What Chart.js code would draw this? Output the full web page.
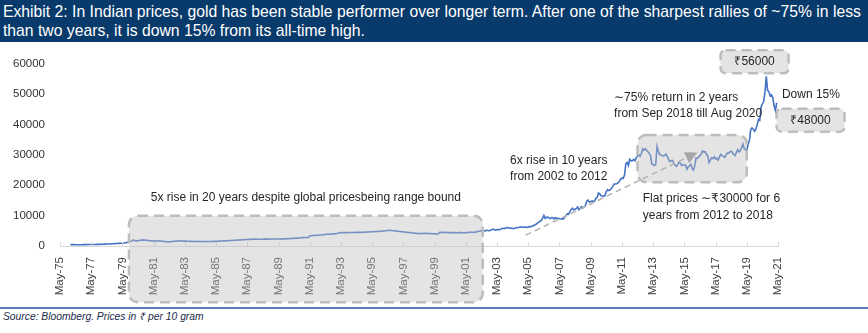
<!DOCTYPE html>
<html>
<head>
<meta charset="utf-8">
<script src="https://cdn.jsdelivr.net/npm/chart.js@4/dist/chart.umd.min.js"></script>
<style>
  body { margin: 0; width: 868px; height: 333px; background: #fff; position: relative; overflow: hidden; }
  #title { position: absolute; left: 0; top: 0; width: 868px; height: 42px; background: #083a6b; }
  #title div { position: absolute; left: 3px; top: 2px; color: #fff; font: 17px 'Liberation Sans', Arial, sans-serif; line-height: 19px;
               white-space: nowrap; transform: scaleX(0.925); transform-origin: 0 0; }
  #chart-wrap { position: absolute; left: 0; top: 42px; }
  #rule { position: absolute; left: 0; top: 307px; width: 868px; height: 2px; background: #5b7db8; }
  #source { position: absolute; left: 3px; top: 309px; font: italic 10.3px 'Liberation Sans', Arial, sans-serif; color: #1a2b4c; }
</style>
</head>
<body>
<div id="title"><div>Exhibit 2: In Indian prices, gold has been stable performer over longer term. After one of the sharpest rallies of ~75% in less<br>than two years, it is down 15% from its all-time high.</div></div>
<div id="chart-wrap"><canvas id="gold-chart" width="868" height="264"></canvas></div>
<div id="rule"></div>
<div id="source">Source: Bloomberg. Prices in ₹ per 10 gram</div>
<script>
// month-end gold price in India, Rs per 10 gram, starting Jan 1976
const firstMonth = '1976-01';

const prices1976to1979 = [
  460, 455, 450, 440, 430, 425, 420, 415, 425, 435, 445, 455,
  465, 475, 485, 495, 500, 495, 500, 510, 520, 530, 540, 550,
  570, 590, 610, 630, 650, 660, 680, 700, 730, 760, 780, 800,
  820, 850, 880, 900, 930, 980, 1050, 1120, 1250, 1350, 1450, 1600
];

const prices1980to2002 = [
  1950, 1850, 1750, 1700, 1750, 1850, 1900, 1950, 2000, 1950, 1900, 1850,
  1800, 1750, 1700, 1650, 1700, 1650, 1600, 1650, 1700, 1650, 1600, 1550,
  1500, 1450, 1400, 1350, 1400, 1380, 1450, 1550, 1600, 1580, 1620, 1650,
  1700, 1750, 1650, 1600, 1620, 1600, 1580, 1560, 1540, 1520, 1500, 1480,
  1480, 1500, 1520, 1500, 1480, 1460, 1450, 1470, 1480, 1500, 1490, 1480,
  1490, 1500, 1520, 1540, 1560, 1580, 1600, 1620, 1640, 1660, 1680, 1700,
  1720, 1750, 1780, 1800, 1830, 1850, 1880, 1920, 1950, 1980, 2000, 2020,
  2050, 2080, 2100, 2120, 2150, 2170, 2180, 2200, 2220, 2250, 2280, 2260,
  2200, 2210, 2230, 2220, 2240, 2250, 2260, 2250, 2270, 2280, 2290, 2300,
  2300, 2290, 2310, 2320, 2300, 2320, 2340, 2330, 2350, 2360, 2380, 2400,
  2420, 2450, 2480, 2500, 2520, 2550, 2580, 2600, 2650, 2700, 2720, 2750,
  2780, 2800, 2820, 2850, 3300, 3400, 3450, 3500, 3480, 3500, 3520, 3550,
  3600, 3650, 3700, 3750, 3800, 3850, 3900, 3880, 3900, 3950, 3980, 4000,
  4050, 4100, 4300, 4350, 4400, 4380, 4420, 4400, 4380, 4400, 4420, 4450,
  4450, 4470, 4480, 4500, 4520, 4500, 4480, 4500, 4520, 4550, 4560, 4580,
  4600, 4620, 4650, 4680, 4700, 4720, 4750, 4780, 4800, 4820, 4850, 4880,
  4900, 4950, 5000, 5050, 5100, 5150, 5200, 5100, 5050, 5000, 4950, 4900,
  4850, 4800, 4750, 4700, 4650, 4600, 4550, 4500, 4450, 4400, 4350, 4300,
  4250, 4200, 4150, 4100, 4080, 4100, 4120, 4100, 4150, 4180, 4150, 4120,
  4100, 4080, 4050, 4020, 4000, 3980, 3950, 4000, 4500, 4550, 4500, 4450,
  4450, 4500, 4420, 4400, 4380, 4420, 4450, 4420, 4400, 4380, 4400, 4420,
  4400, 4380, 4350, 4370, 4400, 4420, 4450, 4480, 4600, 4550, 4500, 4550,
  4650, 4750, 4850, 4900, 5000, 5100, 5050, 5000, 5150, 5100, 5050, 5150
];

const prices2003to2011 = [
  5400, 5550, 5350, 5250, 5400, 5450, 5350, 5550, 5800, 5750, 5800, 6000,
  6050, 5950, 5900, 5850, 5750, 5800, 5950, 6050, 6000, 6150, 6350, 6250,
  6150, 6200, 6250, 6150, 6200, 6450, 6350, 6500, 6750, 6950, 7150, 7550,
  7800, 8150, 8350, 9200, 10100, 9100, 9450, 9550, 9200, 9050, 9350, 9300,
  8950, 9350, 9050, 9150, 8950, 8900, 8950, 8850, 9500, 10050, 10650, 10450,
  11350, 12050, 12450, 11900, 12150, 12350, 12850, 11950, 12450, 12950, 12550, 12850,
  13350, 14850, 15100, 14450, 14550, 14850, 14650, 14850, 15700, 16050, 17450, 17150,
  16550, 16450, 16350, 16650, 17950, 18550, 18250, 18550, 19050, 19650, 20450, 20450,
  20500, 20850, 21250, 22050, 22350, 22300, 23350, 27050, 27550, 26550, 28550, 28050
];

const prices2012to2018 = [
  28100, 28550, 28050, 29050, 29550, 30050, 29550, 30550, 32050, 31550, 32050, 31550,
  31050, 30500, 29800, 27000, 26800, 26500, 26900, 32800, 31200, 30200, 30000, 29800,
  29600, 29900, 30300, 29400, 28400, 27800, 28100, 28200, 27100, 26600, 26200, 26900,
  27700, 27300, 26500, 26800, 26700, 26600, 25300, 26100, 26400, 26900, 25600, 25000,
  26400, 29000, 28900, 29300, 29800, 30300, 31300, 31000, 31100, 30200, 29700, 27500,
  28300, 29100, 28800, 29400, 28700, 28900, 28300, 29400, 30200, 29800, 29500, 29200,
  29900, 30600, 30600, 31000, 31200, 30700, 30100, 29800, 30800, 31800, 31000, 31400
];

const prices2019to2021 = [
  32400, 33600, 32100, 31700, 31600, 33500, 34700, 38300, 38900, 38500, 37800, 38500,
  40000, 41700, 41400, 45800, 46800, 47700, 50800, 55900, 51300, 50800, 49500, 49800,
  48900, 46200, 44600, 47200
];

const tickLabels = [
  'May-75', 'May-77', 'May-79', 'May-81', 'May-83', 'May-85', 'May-87', 'May-89',
  'May-91', 'May-93', 'May-95', 'May-97', 'May-99', 'May-01', 'May-03', 'May-05',
  'May-07', 'May-09', 'May-11', 'May-13', 'May-15', 'May-17', 'May-19', 'May-21'
];

// x positions are counted in months from May 1975
function toMonth(s) {
  const [y, m] = s.split('-').map(Number);
  return (y - 1975) * 12 + (m - 5);
}

const goldPrices = [].concat(prices1976to1979, prices1980to2002, prices2003to2011, prices2012to2018, prices2019to2021);
const start = toMonth(firstMonth);
const points = goldPrices.map((v, i) => ({ x: start + i, y: v }));

// shaded callout boxes, dashed arrow and notes
const boxes = [
  { from: '1979-10', to: '2002-06', top: 10000, bottom: -18500 },
  { from: '2012-05', to: '2019-05', top: 36600, bottom: 21000 }
];
const priceTags = [
  { text: '₹56000', at: '2019-11', value: 60700 },
  { text: '₹48000', at: '2023-06', value: 41450 }
];
const notes = [
  { lines: ['5x rise in 20 years despite global pricesbeing range bound'], at: '1991-02', value: 15990, align: 'center' },
  { lines: ['6x rise in 10 years', 'from 2002 to 2012'], at: '2004-03', value: 28210, align: 'left' },
  { lines: ['Flat prices ∼₹30000 for 6', 'years from 2012 to 2018'], at: '2012-09', value: 15570, align: 'left' },
  { lines: ['∼75% return in 2 years', 'from Sep 2018 till Aug 2020'], at: '2010-11', value: 48970, align: 'left' },
  { lines: ['Down 15%'], at: '2021-08', value: 49940, align: 'left' }
];
const trendArrow = { from: ['2005-03', 3570], to: ['2016-03', 30800] };

const FONT = "'Liberation Sans', Arial, sans-serif";

const axisTicks = {
  id: 'axisTicks',
  afterDatasetsDraw(chart) {
    const { ctx, scales: { x } } = chart;
    ctx.save();
    ctx.strokeStyle = '#d9d9d9';
    ctx.lineWidth = 1;
    x.ticks.forEach(t => {
      const px = Math.round(x.getPixelForValue(t.value)) + 0.5;
      ctx.beginPath();
      ctx.moveTo(px, x.top - 4);
      ctx.lineTo(px, x.top);
      ctx.stroke();
    });
    ctx.restore();
  }
};

function dashedRoundRect(ctx, x, y, w, h, r) {
  ctx.beginPath();
  ctx.roundRect(x, y, w, h, r);
  ctx.fillStyle = 'rgba(191, 191, 191, 0.42)';
  ctx.fill();
  ctx.setLineDash([10, 6]);
  ctx.lineWidth = 2.5;
  ctx.strokeStyle = '#bdbdbd';
  ctx.stroke();
  ctx.setLineDash([]);
}

const annotations = {
  id: 'annotations',
  afterDraw(chart) {
    const { ctx, scales: { x, y } } = chart;
    const px = s => x.getPixelForValue(toMonth(s));
    ctx.save();

    boxes.forEach(b => {
      const x0 = px(b.from), x1 = px(b.to);
      const y0 = y.getPixelForValue(b.top), y1 = y.getPixelForValue(b.bottom);
      dashedRoundRect(ctx, x0, y0, x1 - x0, y1 - y0, 9);
    });

    // trend arrow
    const ax0 = px(trendArrow.from[0]), ay0 = y.getPixelForValue(trendArrow.from[1]);
    const ax1 = px(trendArrow.to[0]), ay1 = y.getPixelForValue(trendArrow.to[1]);
    const ang = Math.atan2(ay1 - ay0, ax1 - ax0);
    ctx.strokeStyle = '#b3b3b3';
    ctx.fillStyle = '#a6a6a6';
    ctx.lineWidth = 1.5;
    ctx.setLineDash([6, 4]);
    ctx.beginPath();
    ctx.moveTo(ax0, ay0);
    ctx.lineTo(ax1 - 9 * Math.cos(ang), ay1 - 9 * Math.sin(ang));
    ctx.stroke();
    ctx.setLineDash([]);
    ctx.beginPath();
    ctx.moveTo(ax1, ay1);
    ctx.lineTo(ax1 - 12 * Math.cos(ang) + 6 * Math.sin(ang), ay1 - 12 * Math.sin(ang) - 6 * Math.cos(ang));
    ctx.lineTo(ax1 - 12 * Math.cos(ang) - 6 * Math.sin(ang), ay1 - 12 * Math.sin(ang) + 6 * Math.cos(ang));
    ctx.closePath();
    ctx.fill();

    // price tags
    ctx.font = '12px ' + FONT;
    ctx.textBaseline = 'middle';
    priceTags.forEach(t => {
      const cx = px(t.at), cy = y.getPixelForValue(t.value);
      dashedRoundRect(ctx, cx - 34, cy - 11.5, 68, 23, 5);
      ctx.fillStyle = '#262626';
      ctx.textAlign = 'center';
      ctx.fillText(t.text, cx, cy);
    });

    notes.forEach(n => {
      const nx = px(n.at), ny = y.getPixelForValue(n.value);
      ctx.fillStyle = '#262626';
      ctx.textAlign = n.align;
      n.lines.forEach((line, i) => ctx.fillText(line, nx, ny + i * 16.5));
    });
    ctx.restore();
  }
};

new Chart(document.getElementById('gold-chart'), {
  type: 'line',
  data: {
    datasets: [{
      data: points,
      borderColor: '#4472c4',
      borderWidth: 1.6,
      pointRadius: 0,
      fill: false,
      tension: 0
    }]
  },
  options: {
    responsive: false,
    animation: false,
    devicePixelRatio: 1,
    layout: { padding: { top: 19, right: 90, left: 0, bottom: 0 } },
    plugins: { legend: { display: false }, tooltip: { enabled: false } },
    scales: {
      x: {
        type: 'linear',
        min: 0,
        max: toMonth('2021-05'),
        afterBuildTicks: axis => { axis.ticks = tickLabels.map((_, i) => ({ value: i * 24 })); },
        afterFit: axis => { axis.height = 60; },
        grid: { display: false, drawTicks: false },
        border: { display: true, color: '#d9d9d9', width: 1 },
        ticks: {
          autoSkip: false, minRotation: 90, maxRotation: 90, padding: 11,
          color: '#404040', font: { family: FONT, size: 11.5 },
          callback: (v, i) => tickLabels[i]
        }
      },
      y: {
        min: 0,
        max: 60000,
        afterFit: axis => { axis.width = 60; },
        grid: { display: false, drawTicks: false },
        border: { display: false },
        ticks: {
          stepSize: 10000, padding: 15,
          color: '#333333', font: { family: FONT, size: 11.5 },
          callback: v => String(v)
        }
      }
    }
  },
  plugins: [axisTicks, annotations]
});
</script>
</body>
</html>
